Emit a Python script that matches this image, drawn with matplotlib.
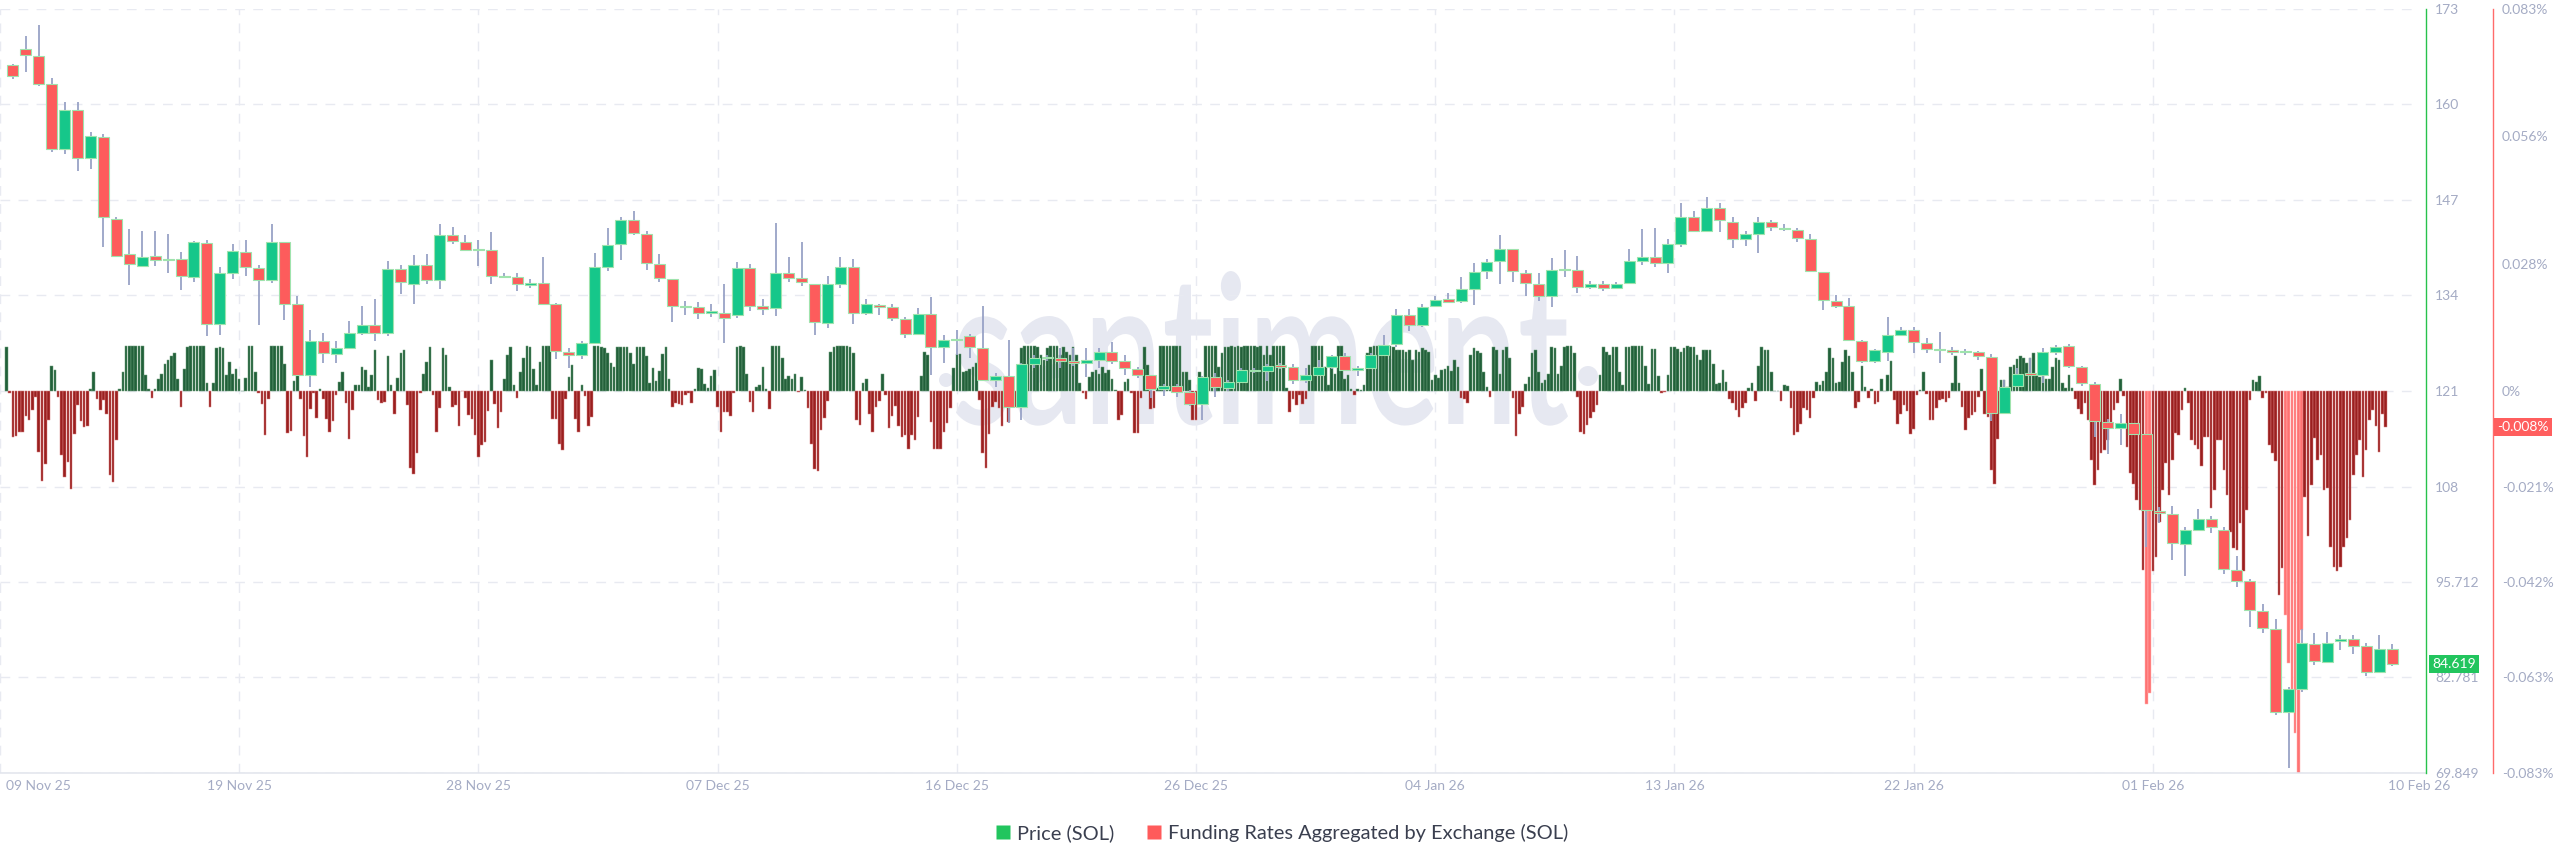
import datetime as dt
import matplotlib
matplotlib.use("Agg")
import matplotlib.pyplot as plt
import matplotlib.dates as mdates
from matplotlib.lines import Line2D
from matplotlib.patches import PathPatch, Circle
from matplotlib.textpath import TextPath
from matplotlib.font_manager import FontProperties
from matplotlib.transforms import Affine2D, ScaledTranslation, blended_transform_factory, IdentityTransform

plt.rcParams['font.family'] = ['Lato', 'DejaVu Sans']

# ---------------- data ----------------
candle_open = [165.7,167.9,167.0,163.1,154.4,159.6,153.1,156.0,144.9,140.1,
138.5,139.8,139.3,139.5,137.0,141.6,130.6,137.5,140.4,138.2,
136.6,141.7,133.3,123.8,128.3,126.6,127.4,129.4,130.5,129.4,
138.1,136.1,138.6,136.6,142.7,141.8,140.7,140.7,137.2,137.0,
135.9,136.2,133.4,126.9,126.5,128.1,138.4,141.5,144.7,142.8,
138.8,136.8,133.1,133.0,132.2,132.2,131.9,138.2,133.1,132.8,
137.6,136.9,136.1,130.8,136.1,138.4,132.2,133.2,133.0,131.3,
129.3,132.0,127.6,128.5,129.0,127.4,123.0,123.6,119.4,125.2,
126.0,126.1,125.6,125.3,125.8,126.9,125.6,124.6,123.7,121.9,
122.2,121.5,119.8,123.5,122.0,122.8,124.4,124.3,125.1,124.8,
123.0,123.8,124.8,126.3,124.4,124.7,126.5,127.9,131.9,130.5,
133.1,134.0,133.7,135.4,137.8,139.2,140.8,137.6,136.1,134.4,
138.1,137.9,135.6,136.1,135.5,136.2,139.2,139.7,138.9,141.5,
145.1,143.3,146.4,144.5,142.1,142.8,144.5,143.7,143.4,142.1,
137.7,133.8,133.1,128.4,125.6,126.9,129.2,129.9,128.1,127.3,
127.1,126.8,126.8,126.2,118.6,122.2,124.0,123.8,126.9,127.7,
124.8,122.5,117.4,116.6,117.2,115.7,105.3,104.9,100.9,102.8,
104.2,102.8,97.4,95.9,91.8,89.4,78.1,81.2,87.3,84.9,
87.7,88.0,87.0,83.5,86.6]

candle_high = [165.9,169.7,171.2,163.9,160.7,160.7,156.7,156.4,145.2,143.5,
143.2,143.3,142.9,140.4,141.9,142.0,138.4,141.5,142.0,138.7,
144.2,141.8,134.5,129.8,129.4,128.3,131.1,133.1,134.0,139.2,
138.7,140.0,140.1,144.2,143.8,142.7,142.0,143.1,137.6,137.6,
136.8,139.7,133.5,127.4,128.3,140.2,143.6,145.1,146.0,143.3,
140.1,136.8,133.8,133.6,133.3,136.0,139.0,138.8,134.0,144.3,
139.7,141.7,136.1,137.2,139.7,139.4,134.0,133.4,133.3,131.6,
132.8,134.3,129.2,129.8,129.3,133.1,124.0,128.5,125.4,126.4,
126.5,127.4,127.4,127.4,127.4,128.2,126.5,124.8,123.8,122.5,
122.5,121.7,123.6,124.0,123.0,124.7,124.7,125.2,125.3,125.2,
124.7,125.8,126.5,126.7,124.9,126.7,129.2,132.7,132.7,133.4,
134.4,134.9,137.0,138.9,139.4,142.7,140.8,138.0,137.6,139.6,
140.6,139.9,136.5,136.5,136.4,140.8,143.5,143.6,142.2,147.0,
145.9,147.8,147.0,145.1,143.2,145.1,144.7,144.2,143.6,142.8,
137.7,134.6,134.1,128.5,127.2,131.6,130.2,130.3,128.8,129.5,
127.6,127.2,127.0,126.6,123.0,124.7,126.0,127.4,127.8,127.9,
125.0,122.8,117.8,118.4,117.3,115.8,105.9,106.0,103.1,105.6,
104.6,103.1,99.3,96.1,92.7,90.7,81.5,89.4,88.8,89.0,
88.6,88.6,87.4,88.5,87.3]

candle_low = [163.8,164.8,162.9,154.0,153.7,151.3,151.6,141.1,139.8,135.9,
138.5,138.5,137.6,135.2,136.4,129.0,129.2,136.8,137.1,130.5,
136.2,131.2,123.6,122.1,125.3,125.3,127.2,129.2,128.3,129.0,
134.7,133.4,136.1,135.4,141.5,140.5,138.5,136.1,137.0,135.1,
135.5,133.4,125.9,124.7,125.9,127.9,137.8,139.3,142.7,137.9,
136.3,130.9,131.8,131.3,131.6,128.1,131.5,132.4,131.8,131.7,
136.3,135.8,129.2,130.1,135.5,130.6,131.9,131.8,131.1,128.8,
129.2,123.8,125.3,126.5,126.0,122.9,122.1,117.3,117.6,124.7,
125.6,124.7,125.0,123.5,124.7,125.2,123.8,123.4,120.6,120.9,
120.7,119.5,117.7,120.7,121.6,122.7,124.0,122.9,124.6,122.5,
122.7,123.6,124.5,124.3,123.6,124.5,126.3,127.6,129.7,130.3,
133.0,133.5,133.5,133.2,136.8,136.1,136.4,134.4,133.8,133.0,
137.0,134.8,135.4,135.1,135.4,136.1,138.6,138.3,137.6,141.1,
143.2,143.3,143.1,140.9,141.2,140.2,143.3,143.3,141.8,137.7,
132.6,132.8,128.3,125.4,125.4,125.6,129.0,126.7,126.7,125.4,
126.5,126.4,125.8,117.5,118.4,122.1,123.6,122.7,126.5,124.7,
122.3,115.3,113.0,114.2,115.7,100.4,103.7,98.7,96.5,102.6,
102.3,96.8,95.1,89.6,88.8,77.7,70.5,80.8,84.5,84.7,
86.5,85.9,83.0,83.4,84.4]

candle_close = [164.2,167.1,163.1,154.4,159.6,153.1,156.1,145.1,139.9,138.8,
139.7,139.3,139.5,137.1,141.8,130.6,137.5,140.5,138.3,136.6,
141.7,133.4,123.8,128.3,126.7,127.4,129.4,130.5,129.4,138.1,
136.3,138.6,136.6,142.7,141.9,140.7,140.8,137.2,137.0,136.0,
136.2,133.4,127.0,126.5,128.1,138.4,141.4,144.7,143.0,138.9,
136.9,133.1,133.0,132.2,132.3,131.5,138.2,133.1,132.7,137.6,
136.9,136.3,130.9,136.1,138.3,132.2,133.3,133.0,131.4,129.3,
132.0,127.5,128.5,128.6,127.5,123.0,123.6,119.4,125.2,126.0,
126.1,125.7,125.3,125.8,126.9,125.7,124.7,123.8,121.9,122.2,
121.5,119.8,123.5,122.1,122.8,124.4,124.3,124.9,124.8,123.0,
123.8,124.8,126.3,124.4,124.7,126.5,127.8,131.9,130.5,133.0,
133.9,133.6,135.4,137.7,139.1,140.8,137.8,136.2,134.4,138.0,
137.9,135.6,136.1,135.5,136.1,139.2,139.7,138.9,141.5,145.1,
143.3,146.4,144.7,142.1,142.8,144.5,143.8,143.5,142.3,137.8,
133.9,133.1,128.5,125.6,127.1,129.1,129.9,128.2,127.3,127.1,
126.8,126.9,126.3,118.6,122.1,123.9,123.8,126.8,127.6,124.9,
122.6,117.5,116.6,117.2,115.8,105.4,105.1,101.0,102.7,104.3,
103.1,97.5,95.9,91.9,89.5,78.1,81.2,87.4,85.0,87.5,
88.0,87.1,83.5,86.7,84.619]

# funding rate (%), one value every 3 hours
funding_rate = [
0.0095,-0.0004,-0.0101,-0.0098,-0.0089,-0.0089,-0.0054,-0.0063,-0.0041,-0.0014,
-0.0132,-0.0195,-0.0159,-0.0062,0.0054,0.0046,-0.0014,-0.0140,-0.0186,-0.0155,
-0.0213,-0.0094,-0.0031,-0.0065,-0.0079,-0.0077,0.0005,0.0041,-0.0017,-0.0041,
-0.0020,-0.0050,-0.0182,-0.0197,-0.0106,0.0004,0.0042,0.0098,0.0098,0.0098,
0.0098,0.0098,0.0098,0.0035,0.0005,-0.0016,0.0005,0.0027,0.0038,0.0059,
0.0067,0.0077,0.0083,0.0026,-0.0035,0.0048,0.0095,0.0098,0.0098,0.0098,
0.0098,0.0098,0.0017,-0.0035,0.0017,0.0093,0.0096,0.0093,0.0035,0.0064,
0.0038,0.0048,0.0025,0.0000,0.0028,0.0098,0.0098,0.0041,-0.0005,-0.0029,
-0.0096,-0.0018,0.0098,0.0098,0.0098,0.0098,0.0059,-0.0092,-0.0087,0.0022,
0.0038,-0.0017,-0.0097,-0.0144,-0.0040,-0.0004,-0.0059,0.0004,-0.0018,-0.0060,
-0.0090,-0.0066,-0.0008,0.0020,0.0041,-0.0027,-0.0104,-0.0041,0.0014,0.0012,
0.0053,0.0046,0.0008,0.0034,0.0090,-0.0020,-0.0025,-0.0024,0.0076,0.0012,
-0.0051,0.0028,0.0082,0.0088,-0.0031,-0.0168,-0.0181,-0.0135,-0.0005,0.0037,
0.0062,0.0095,-0.0009,-0.0088,-0.0038,0.0093,0.0078,0.0008,-0.0034,-0.0031,
-0.0076,-0.0001,-0.0016,-0.0052,-0.0061,-0.0096,-0.0144,-0.0117,
-0.0110,-0.0043,0.0067,-0.0029,-0.0081,-0.0045,0.0025,0.0078,0.0095,0.0013,
-0.0016,0.0042,0.0071,0.0098,0.0096,0.0047,0.0014,0.0062,0.0098,0.0098,
0.0098,-0.0061,-0.0061,-0.0115,-0.0128,-0.0018,0.0030,0.0056,-0.0061,-0.0090,
0.0012,-0.0011,-0.0076,-0.0057,0.0098,0.0098,0.0096,0.0093,0.0083,0.0060,
0.0053,0.0095,0.0095,0.0095,0.0095,0.0082,0.0059,0.0095,0.0096,0.0095,
0.0077,0.0018,0.0049,0.0022,0.0043,0.0080,0.0095,0.0025,-0.0034,-0.0025,
-0.0028,-0.0030,-0.0009,-0.0005,-0.0027,0.0004,0.0051,0.0047,0.0015,0.0006,
0.0033,0.0046,-0.0034,-0.0090,-0.0046,-0.0046,-0.0054,-0.0004,0.0095,0.0098,
0.0095,0.0038,-0.0023,-0.0045,0.0009,0.0014,0.0053,0.0004,-0.0039,0.0098,
0.0098,0.0098,0.0071,0.0026,0.0033,0.0025,0.0036,-0.0002,0.0030,0.0002,
-0.0038,-0.0115,-0.0169,-0.0173,-0.0085,-0.0058,-0.0022,0.0085,0.0095,0.0098,
0.0098,0.0098,0.0098,0.0095,0.0082,-0.0063,-0.0074,0.0017,0.0026,-0.0049,
-0.0090,-0.0034,-0.0022,0.0037,-0.0009,-0.0080,-0.0054,-0.0032,-0.0077,-0.0101,
-0.0096,-0.0125,-0.0096,-0.0106,-0.0057,0.0033,0.0084,0.0078,-0.0067,-0.0125,
-0.0126,-0.0125,-0.0088,-0.0069,-0.0038,0.0051,0.0080,0.0080,
0.0042,0.0043,0.0047,0.0053,0.0060,-0.0020,-0.0135,-0.0167,-0.0093,-0.0034,
-0.0023,-0.0038,-0.0076,-0.0034,-0.0067,-0.0034,-0.0034,0.0031,0.0093,0.0098,
0.0098,0.0098,0.0098,0.0095,0.0078,0.0067,0.0093,0.0098,0.0098,0.0098,
0.0078,0.0096,0.0085,0.0078,0.0095,0.0078,0.0018,-0.0005,-0.0018,0.0031,
0.0042,0.0046,0.0038,0.0053,0.0040,0.0046,0.0025,0.0002,-0.0062,-0.0052,
0.0020,0.0025,-0.0005,-0.0091,-0.0092,-0.0016,0.0096,0.0056,-0.0039,-0.0038,
0.0006,0.0098,0.0098,0.0098,0.0098,0.0098,0.0098,0.0098,0.0042,0.0042,
0.0024,-0.0062,-0.0062,0.0042,0.0013,0.0098,0.0098,0.0098,0.0098,0.0053,
0.0082,0.0096,0.0096,0.0098,0.0096,0.0098,0.0096,0.0098,0.0098,0.0098,
0.0098,0.0096,0.0098,0.0078,0.0098,0.0078,0.0098,0.0098,0.0098,0.0098,
0.0006,-0.0045,-0.0018,-0.0030,-0.0009,-0.0028,-0.0018,0.0056,0.0098,0.0098,
0.0098,0.0098,0.0053,0.0013,0.0056,0.0038,0.0098,0.0098,0.0025,0.0035,
0.0004,-0.0009,0.0004,0.0002,0.0013,0.0082,0.0096,0.0098,0.0098,0.0098,
0.0098,0.0098,0.0098,0.0096,0.0089,0.0089,0.0089,0.0085,0.0089,0.0067,
0.0089,0.0085,0.0093,0.0089,0.0085,0.0024,0.0035,0.0028,
0.0046,0.0047,0.0054,0.0043,0.0067,0.0053,-0.0016,-0.0018,-0.0025,0.0078,
0.0093,0.0087,0.0082,0.0041,0.0008,-0.0012,0.0095,0.0090,0.0038,0.0090,
0.0095,0.0071,-0.0016,-0.0098,-0.0049,-0.0034,0.0015,0.0030,0.0082,0.0089,
0.0042,0.0017,0.0024,0.0038,0.0096,0.0093,0.0038,0.0055,0.0096,0.0098,
0.0098,0.0082,-0.0012,-0.0088,-0.0094,-0.0074,-0.0059,-0.0045,-0.0030,0.0035,
0.0095,0.0085,0.0078,0.0096,0.0095,0.0042,0.0013,0.0095,0.0096,0.0098,
0.0098,0.0098,0.0098,0.0054,0.0015,0.0091,0.0091,0.0033,-0.0005,-0.0002,
0.0035,0.0095,0.0096,0.0091,0.0085,0.0093,0.0098,0.0096,0.0095,0.0078,
0.0068,0.0090,0.0090,0.0090,0.0059,0.0015,0.0018,0.0046,0.0020,-0.0018,
-0.0025,-0.0041,-0.0056,-0.0038,-0.0027,0.0006,0.0017,-0.0021,0.0055,0.0095,
0.0089,0.0089,0.0041,0.0000,0.0000,-0.0021,0.0013,0.0011,-0.0038,-0.0096,
-0.0088,-0.0072,-0.0038,-0.0041,-0.0059,-0.0016,0.0019,0.0013,0.0022,0.0042,
0.0093,0.0071,0.0017,0.0020,0.0064,0.0088,0.0076,0.0042,-0.0038,-0.0023,
0.0054,0.0009,-0.0016,0.0004,-0.0029,-0.0023,0.0025,0.0000,0.0035,0.0066,
-0.0020,-0.0072,-0.0050,-0.0030,-0.0043,-0.0094,-0.0083,-0.0009,
0.0002,0.0042,-0.0007,-0.0064,-0.0064,-0.0038,-0.0020,-0.0018,-0.0023,-0.0016,
0.0018,0.0076,0.0017,-0.0034,-0.0085,-0.0059,-0.0052,-0.0046,-0.0014,0.0047,
-0.0049,-0.0056,-0.0172,-0.0201,-0.0105,0.0024,0.0024,0.0009,0.0053,0.0056,
0.0069,0.0075,0.0071,0.0060,0.0071,0.0082,0.0035,0.0031,0.0082,0.0025,
0.0025,0.0053,0.0071,0.0067,0.0017,0.0006,0.0035,0.0006,-0.0018,-0.0040,
-0.0049,-0.0025,-0.0063,-0.0150,-0.0204,-0.0172,-0.0135,-0.0128,-0.0106,-0.0077,
-0.0041,-0.0027,0.0025,-0.0010,-0.0121,-0.0179,-0.0201,-0.0237,-0.0258,-0.0389,
-0.0680,-0.0657,-0.0392,-0.0360,-0.0284,-0.0215,-0.0157,-0.0226,-0.0150,-0.0092,
-0.0096,-0.0041,0.0006,-0.0027,-0.0106,-0.0117,-0.0125,-0.0164,-0.0099,-0.0099,
-0.0255,-0.0215,-0.0106,-0.0106,-0.0172,-0.0226,-0.0306,-0.0342,-0.0345,-0.0287,
-0.0392,-0.0258,-0.0020,0.0024,0.0020,0.0033,-0.0016,-0.0005,-0.0117,-0.0135,
-0.0153,-0.0443,-0.0385,-0.0487,-0.0592,-0.0686,-0.0744,-0.0830,-0.0519,-0.0230,
-0.0316,-0.0204,-0.0103,-0.0150,-0.0139,-0.0215,-0.0211,-0.0338,-0.0382,-0.0392,
-0.0382,-0.0338,-0.0320,-0.0280,-0.0182,-0.0139,-0.0106,-0.0186,-0.0128,-0.0063,
-0.0041,-0.0077,-0.0132,-0.0049,-0.0078]

date_labels = ["09 Nov 25", "19 Nov 25", "28 Nov 25", "07 Dec 25", "16 Dec 25", "26 Dec 25",
               "04 Jan 26", "13 Jan 26", "22 Jan 26", "01 Feb 26", "10 Feb 26"]
price_ticks = [69.849, 82.781, 95.712, 108.643, 121.574, 134.506, 147.437, 160.369, 173.3]
price_tick_labels = ["69.849", "82.781", "95.712", "108", "121", "134", "147", "160", "173"]
funding_ticks = [-0.083, -0.06225, -0.0415, -0.02075, 0.0, 0.02767, 0.05533, 0.083]
funding_tick_labels = ["-0.083%", "-0.063%", "-0.042%", "-0.021%", "0%", "0.028%", "0.056%", "0.083%"]

# ---------------- time axes ----------------
candle_start = dt.datetime(2025, 11, 10, 6)
candle_times = [candle_start + dt.timedelta(hours=12 * i) for i in range(len(candle_open))]
funding_start = dt.datetime(2025, 11, 10, 0)
funding_times = [funding_start + dt.timedelta(hours=3 * j) for j in range(len(funding_rate))]
axis_start = dt.datetime(2025, 11, 9, 18)
tick_times = [axis_start + dt.timedelta(hours=222 * k) for k in range(len(date_labels))]

# ---------------- figure ----------------
W, H, DPI = 2560, 867, 100
fig = plt.figure(figsize=(W / DPI, H / DPI), dpi=DPI, facecolor="white")
PL, PR, PT, PB = 0, 2426, 9, 773
ax_f = fig.add_axes([PL / W, 1 - PB / H, (PR - PL) / W, (PB - PT) / H])
ax_p = ax_f.twinx()

LABEL_C = "#a4abc4"
GRID_C = "#e8eaf1"
GREEN_AX = "#27c24c"
RED_AX = "#ff6b6b"

x0 = mdates.date2num(axis_start)
px_per_day = 25.86
x1 = x0 + PR / px_per_day
ax_f.set_xlim(x0, x1)
ax_f.set_ylim(-0.083, 0.083)
ax_p.set_ylim(69.849, 173.3)

# watermark
WM_C = "#e6e8f1"
fp = FontProperties(family="Lato", weight="semibold")
tp = TextPath((0, 0), "santiment", size=1, prop=fp)
ext = tp.get_extents()
xh = TextPath((0, 0), "x", size=1, prop=fp).get_extents().height
sx = 612 / ext.width
sy = 106 / xh
wm_tr = Affine2D().translate(-ext.x0, 0).scale(sx, sy).translate(956, H - 424)
wm = PathPatch(tp, transform=wm_tr, facecolor=WM_C, edgecolor="none", zorder=0.2)
ax_f.add_artist(wm)
for cx, cy, r in [(946, H - 380, 7), (1588, H - 376, 10)]:
    ax_f.add_artist(Circle((cx, cy), r, transform=IdentityTransform(),
                           facecolor=WM_C, edgecolor="none", zorder=0.2))

# grid
for t in tick_times[:-1]:
    ax_f.axvline(mdates.date2num(t), color=GRID_C, lw=1.0, ls=(0, (7, 6)), zorder=0.5)
for p in price_ticks:
    yf = (p - price_ticks[0]) / (price_ticks[-1] - price_ticks[0])
    ax_f.add_line(Line2D([0, 2418 / PR], [yf, yf], transform=ax_f.transAxes,
                         color=GRID_C, lw=1.0, ls=(0, (7, 6)), zorder=0.5))

# funding bars
bar_colors = []
bar_edges = []
for v in funding_rate:
    if v >= 0:
        bar_colors.append("#22603a"); bar_edges.append("#6c9f7b")
    elif v < -0.045:
        bar_colors.append("#ff7272"); bar_edges.append("#ffb3b3")
    else:
        bar_colors.append("#9a1f1f"); bar_edges.append("#d98080")
ax_f.bar(funding_times, funding_rate, width=0.1, color=bar_colors,
         edgecolor=bar_edges, linewidth=0.35, zorder=2)

# candles
up_c, dn_c = "#16c78a", "#fd5c5c"
body_colors = [up_c if c >= o else dn_c for o, c in zip(candle_open, candle_close)]
ax_p.vlines(candle_times, candle_low, candle_high, color="#98a2c6", lw=1.3, zorder=3)
bottoms = [min(o, c) for o, c in zip(candle_open, candle_close)]
heights = [max(abs(c - o), 0.15) for o, c in zip(candle_open, candle_close)]
ax_p.bar(candle_times, heights, bottom=bottoms, width=0.425, color=body_colors,
         edgecolor="#9fe3ad", linewidth=0.8, zorder=4)

# axes styling
for a in (ax_f, ax_p):
    a.spines["top"].set_visible(False)
    a.spines["left"].set_visible(False)
ax_p.spines["bottom"].set_visible(False)
ax_f.spines["bottom"].set_color("#e1e4ec")
ax_f.spines["bottom"].set_linewidth(1.1)
ax_p.spines["right"].set_color(GREEN_AX)
ax_p.spines["right"].set_linewidth(1.0)
ax_f.spines["right"].set_position(("outward", 67 * 72 / DPI))
ax_f.spines["right"].set_color(RED_AX)
ax_f.spines["right"].set_linewidth(1.0)
ax_f.yaxis.tick_right()

ax_p.set_yticks(price_ticks)
ax_p.set_yticklabels(price_tick_labels)
ax_f.set_yticks(funding_ticks)
ax_f.set_yticklabels(funding_tick_labels)
ax_p.tick_params(axis="y", length=0, pad=6.5, labelsize=10, labelcolor=LABEL_C)
ax_f.tick_params(axis="y", length=0, pad=6.5, labelsize=10, labelcolor=LABEL_C)

ax_f.set_xticks([mdates.date2num(t) for t in tick_times])
ax_f.set_xticklabels(date_labels)
ax_f.tick_params(axis="x", length=0, pad=5, labelsize=10, labelcolor=LABEL_C)
xl = ax_f.get_xticklabels()
xl[0].set_horizontalalignment("left")
xl[0].set_transform(xl[0].get_transform() + ScaledTranslation(6 / DPI, 0, fig.dpi_scale_trans))
xl[-1].set_transform(xl[-1].get_transform() + ScaledTranslation(27 / DPI, 0, fig.dpi_scale_trans))
ax_f.set_xlim(x0, x1)

# last value boxes
tr_p = blended_transform_factory(ax_p.transAxes, ax_p.transData) + ScaledTranslation(6 / DPI, 0, fig.dpi_scale_trans)
ax_p.text(1.0, candle_close[-1], f"{candle_close[-1]:.3f}", transform=tr_p, ha="left", va="center",
          fontsize=10, color="white", zorder=10, clip_on=False,
          bbox=dict(boxstyle="square,pad=0.22", fc="#22c55e", ec="none"))
tr_f = blended_transform_factory(ax_f.transAxes, ax_f.transData) + ScaledTranslation(71 / DPI, 0, fig.dpi_scale_trans)
ax_f.text(1.0, funding_rate[-1], f"{funding_rate[-1]:.3f}%", transform=tr_f, ha="left", va="center",
          fontsize=10, color="white", zorder=10, clip_on=False,
          bbox=dict(boxstyle="square,pad=0.22", fc="#ff5e5e", ec="none"))

# legend
handles = [Line2D([], [], marker="s", ls="none", markersize=9.5, markerfacecolor="#22c55e", markeredgecolor="none"),
           Line2D([], [], marker="s", ls="none", markersize=9.5, markerfacecolor="#ff5b5b", markeredgecolor="none")]
fig.legend(handles, ["Price (SOL)", "Funding Rates Aggregated by Exchange (SOL)"],
           loc="center", bbox_to_anchor=(1281 / W, 1 - 833 / H), ncol=2, frameon=False,
           fontsize=14.4, labelcolor="#3a3f4f", handletextpad=0.25, columnspacing=1.5,
           handlelength=0.9)

fig.savefig("out.png", dpi=DPI, facecolor="white")
